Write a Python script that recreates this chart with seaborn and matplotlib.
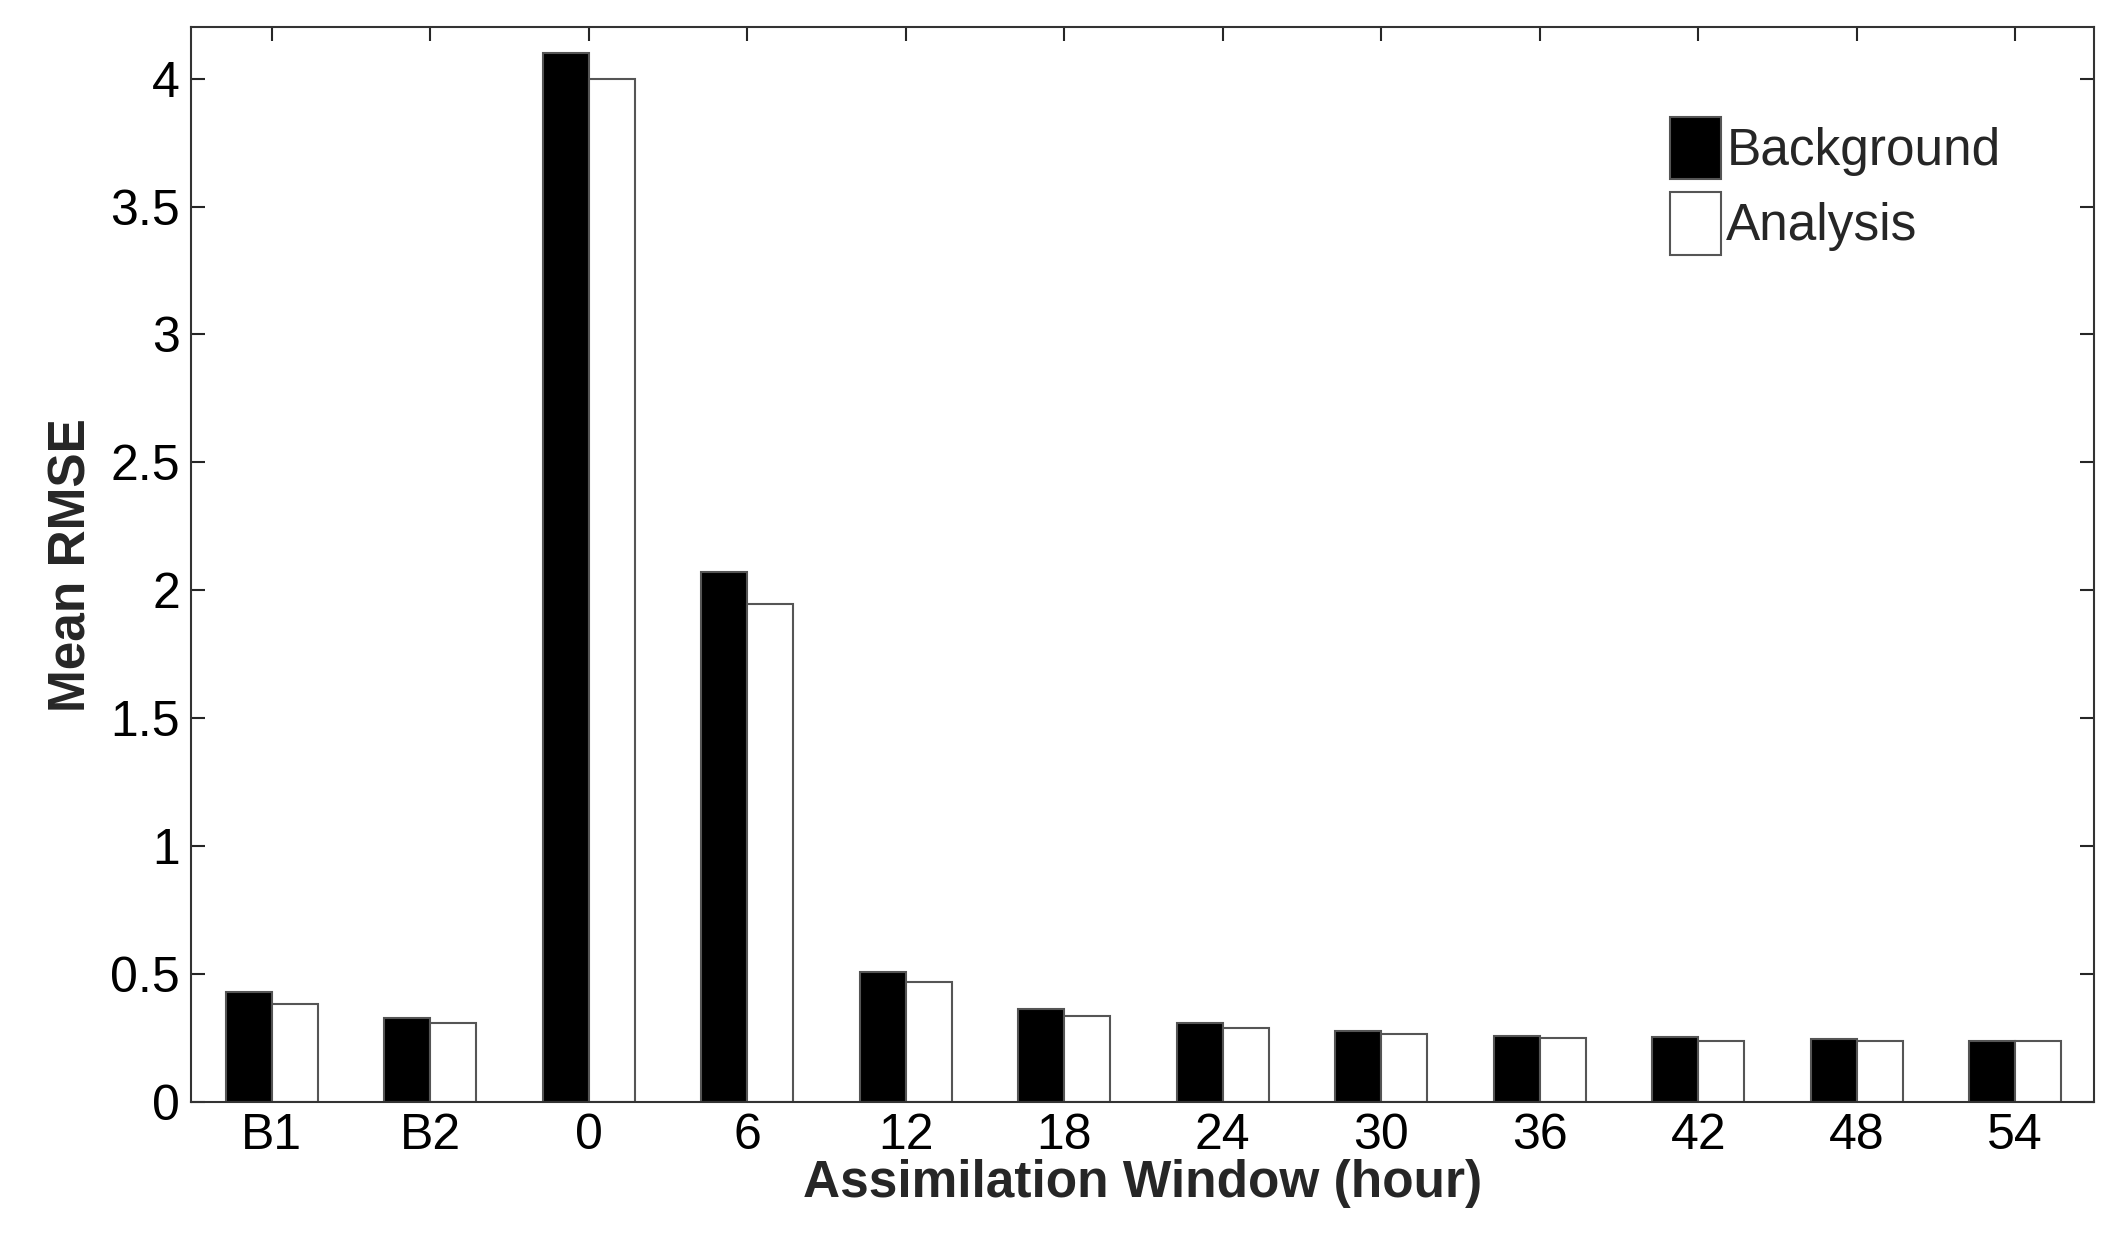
import matplotlib
matplotlib.use("Agg")
import matplotlib.pyplot as plt
import pandas as pd
import seaborn as sns

windows = ["B1", "B2", "0", "6", "12", "18", "24", "30", "36", "42", "48", "54"]
background = [0.43, 0.33, 4.10, 2.07, 0.51, 0.365, 0.31, 0.28, 0.26, 0.255, 0.245, 0.24]
analysis = [0.385, 0.31, 4.00, 1.945, 0.47, 0.335, 0.29, 0.265, 0.25, 0.24, 0.24, 0.24]

df = pd.DataFrame({
    "window": windows * 2,
    "rmse": background + analysis,
    "kind": ["Background"] * len(windows) + ["Analysis"] * len(windows),
})

sns.set_style("white")
plt.rcParams["font.family"] = ["Liberation Sans", "DejaVu Sans"]

fig = plt.figure(figsize=(21.22, 12.44), dpi=100)
ax = fig.add_axes([0.09, 0.114, 0.897, 0.864])
sns.barplot(data=df, x="window", y="rmse", hue="kind", order=windows,
            palette={"Background": "black", "Analysis": "white"},
            edgecolor="#555555", linewidth=1.5, width=0.58, ax=ax)

ax.set_xlim(-0.51, 11.5)
ax.set_ylim(0, 4.2)
ax.set_yticks([0, 0.5, 1, 1.5, 2, 2.5, 3, 3.5, 4])
ax.set_yticklabels(["0", "0.5", "1", "1.5", "2", "2.5", "3", "3.5", "4"])
ax.tick_params(direction="in", length=10, width=1.5, labelsize=36,
               labelcolor="black", top=True, right=True, bottom=True,
               left=True, pad=8)
for s in ax.spines.values():
    s.set_color("#333333")
    s.set_linewidth(1.5)
ax.set_xlabel("Assimilation Window (hour)", fontsize=37, fontweight="bold", labelpad=0)
ax.set_ylabel("Mean RMSE", fontsize=37, fontweight="bold", labelpad=10)

ax.legend(loc="upper right", bbox_to_anchor=(0.975, 0.96), fontsize=37,
          frameon=False, handlelength=1.0, handleheight=1.5,
          handletextpad=0.1, labelspacing=0.25)

fig.savefig("out.png", dpi=100)
